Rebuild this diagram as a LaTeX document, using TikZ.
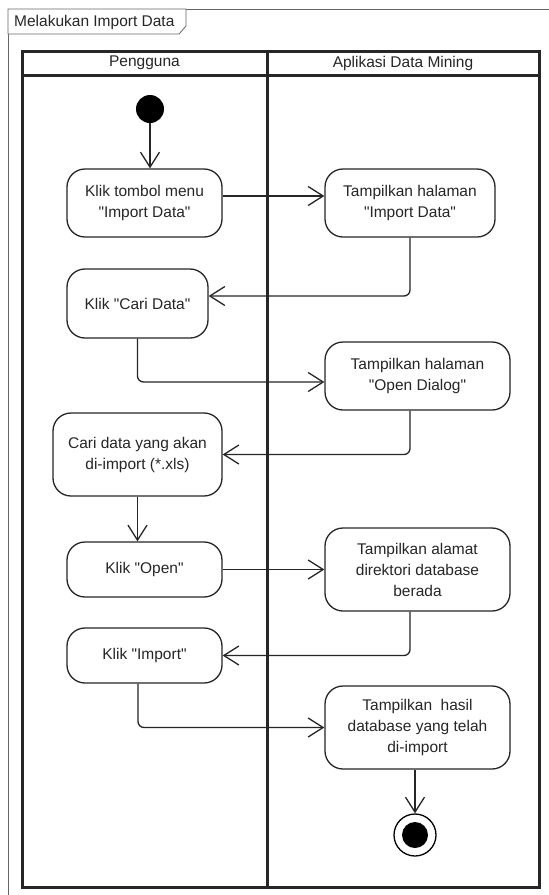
\documentclass[tikz,border=0pt]{standalone}
\usepackage{fontspec}
\setmainfont{Liberation Sans}[Ligatures=TeXOff]
\usetikzlibrary{positioning,arrows.meta}
\tikzset {
    style action/.style={
        draw=black!85,
        line width=1.3pt,
        rectangle, % Set the shape as a rectangle
        rounded corners=18pt,
        inner sep=0pt,
        align=center,
    },
    style start/.style={
        circle,
        fill=black,
        minimum size=28pt,
        inner sep=0pt,
    },
    style finish/.style={
        circle,
        draw=black,
        line width=1.3pt,
        fill=white,
        minimum size=42pt,
        inner sep=0pt,
        path picture={\fill[black] (path picture bounding box.center) circle (13pt);},
    },
    style flow/.style={
        draw=black!85,
        line width=1.3pt,
        rounded corners=6pt,
        -{Straight Barb[length=15pt,width=19pt,line width=1.3pt]},
    },
    style lane/.style={
        draw=black!85,
        line width=3pt,
    },
}

\begin{document}
\begin{tikzpicture}
        [x=1pt, y=-1pt, font=\fontsize{15.5}{21}\selectfont, text=black!85]

        \clip (0,0) rectangle (549,895);
        \fill[white] (0,0) rectangle (549,895);

        % frame and its tab
        \draw[black!60, line width=0.8pt] (8,905) -- (8,9) -- (560,9);
        \draw[black!60, line width=0.8pt, fill=white] (8,9) -- (186,9) -- (186,26) -- (179,34) -- (8,34) -- cycle;
        \node[anchor=west, inner sep=0pt] at (14,22) (judul) {Melakukan Import Data};

        % swimlanes
        \draw[style lane] (22,51) rectangle (539,887);
        \draw[style lane] (22,75) -- (539,75);
        \draw[style lane] (267,51) -- (267,887);
        \node at (144.5,63) (pengguna) {Pengguna};
        \node at (403,63) (aplikasi) {Aplikasi Data Mining};

        \node[style start] at (150,109) (start) {};

        \node[style action, minimum width=155pt, minimum height=68pt] at (144.5,203) (klikMenu) {Klik tombol menu\\"Import Data"};
        \node[style action, minimum width=170pt, minimum height=68pt] at (410,203) (tampilImport) {Tampilkan halaman\\"Import Data"};
        \node[style action, minimum width=141pt, minimum height=69pt] at (137.5,303.5) (klikCari) {Klik "Cari Data"};
        \node[style action, minimum width=185pt, minimum height=68pt] at (417.5,376) (tampilDialog) {Tampilkan halaman\\"Open Dialog"};
        \node[style action, minimum width=169pt, minimum height=83pt] at (137.5,454.5) (cariData) {Cari data yang akan\\di-import (*.xls)};
        \node[style action, minimum width=155pt, minimum height=55pt] at (144.5,569.5) (klikOpen) {Klik "Open"};
        \node[style action, minimum width=185pt, minimum height=83pt] at (417.5,569.5) (tampilAlamat) {Tampilkan alamat\\direktori database\\berada};
        \node[style action, minimum width=155pt, minimum height=55pt] at (144.5,655.5) (klikImport) {Klik "Import"};
        \node[style action, minimum width=185pt, minimum height=83pt] at (417.5,727.5) (tampilHasil) {Tampilkan\ \ hasil\\database yang telah\\di-import};

        \node[style finish] at (415,835) (finish) {};

        \draw[style flow] (start) -- (start |- klikMenu.north);
        \draw[style flow] ([yshift=7pt]klikMenu.east) -- ([yshift=7pt]tampilImport.west);
        \draw[style flow] (tampilImport.south) |- ([yshift=7.5pt]klikCari.east);
        \draw[style flow] (klikCari.south) |- ([yshift=-6pt]tampilDialog.west);
        \draw[style flow] ([xshift=-7.5pt]tampilDialog.south) |- (cariData.east);
        \draw[style flow] (cariData.south) -- (cariData.south |- klikOpen.north);
        \draw[style flow] (klikOpen.east) -- (tampilAlamat.west);
        \draw[style flow] ([xshift=-7.5pt]tampilAlamat.south) |- (klikImport.east);
        \draw[style flow] ([xshift=-6.5pt]klikImport.south) |- (tampilHasil.west);
        \draw[style flow] (finish |- tampilHasil.south) -- (finish);
    \end{tikzpicture}
\end{document}
